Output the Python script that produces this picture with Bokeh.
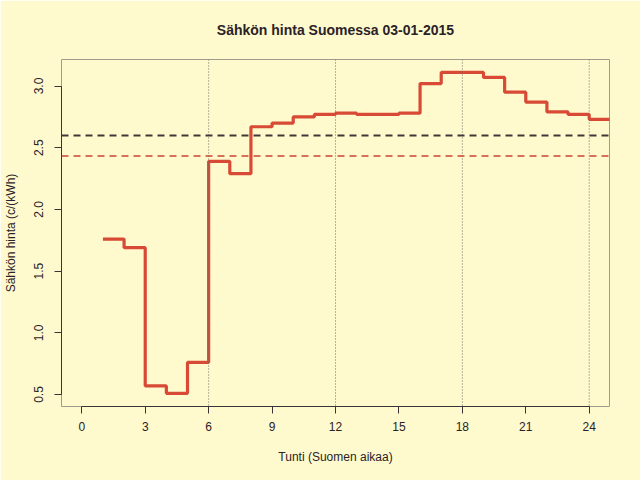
from bokeh.plotting import figure
from bokeh.models import Span, FixedTicker, NumeralTickFormatter, Range1d, LinearAxis
from bokeh.embed import file_html
from bokeh.resources import INLINE

# Data (hour of day, price c/kWh)
hours = [1, 2, 3, 4, 5, 6, 7, 8, 9, 10, 11, 12,
         13, 14, 15, 16, 17, 18, 19, 20, 21, 22, 23, 24]
prices = [1.76, 1.69, 0.57, 0.51, 0.76, 2.39, 2.29, 2.67, 2.70, 2.75, 2.77, 2.78,
          2.77, 2.77, 2.78, 3.02, 3.11, 3.11, 3.07, 2.95, 2.87, 2.79, 2.77, 2.73]
reference_price = 2.60
x_ticks = [0, 3, 6, 9, 12, 15, 18, 21, 24]
y_ticks = [0.5, 1.0, 1.5, 2.0, 2.5, 3.0]
day_lines = [6, 12, 18, 24]
title_text = "Sähkön hinta Suomessa 03-01-2015"
x_label = "Tunti (Suomen aikaa)"
y_label = "Sähkön hinta (c/(kWh)"

mean_price = sum(prices) / len(prices)

BG = "#FFFACD"
FONT = "Liberation Sans"

p = figure(width=640, height=480, output_backend="svg", toolbar_location=None,
           x_range=Range1d(-0.96, 24.96), y_range=Range1d(0.403, 3.215),
           min_border_left=59, min_border_right=31, min_border_top=59,
           min_border_bottom=74)
p.background_fill_color = BG
p.border_fill_color = BG
p.outline_line_color = "#a09c8c"
p.outline_line_width = 1
p.grid.visible = False

xaxis = p.below[0]
yaxis = p.left[0]

for ax in (xaxis, yaxis):
    ax.axis_line_color = "#3a3438"
    ax.axis_line_width = 1
    ax.major_tick_line_color = "#3a3438"
    ax.major_tick_out = 7
    ax.major_tick_in = 0
    ax.minor_tick_line_color = None
    ax.major_label_text_font = FONT
    ax.major_label_text_font_size = "12px"
    ax.major_label_text_color = "#2a2228"
    ax.axis_label_text_font = FONT
    ax.axis_label_text_font_size = "12px"
    ax.axis_label_text_font_style = "normal"
    ax.axis_label_text_color = "#2a2228"

xaxis.ticker = FixedTicker(ticks=x_ticks)
xaxis.bounds = (x_ticks[0], x_ticks[-1])
xaxis.axis_label = x_label
xaxis.major_label_standoff = 8
xaxis.axis_label_standoff = 16

yaxis.ticker = FixedTicker(ticks=y_ticks)
yaxis.bounds = (y_ticks[0], y_ticks[-1])
yaxis.formatter = NumeralTickFormatter(format="0.0")
yaxis.major_label_orientation = "vertical"
yaxis.axis_label = y_label
yaxis.major_label_standoff = 11
yaxis.axis_label_standoff = 14

# Title drawn as the label of an empty axis above the frame
title_axis = LinearAxis(ticker=FixedTicker(ticks=[]), axis_label=title_text,
                        axis_line_color=None, major_tick_line_color=None,
                        minor_tick_line_color=None, major_tick_out=0,
                        major_label_standoff=0, axis_label_standoff=22,
                        axis_label_text_font=FONT, axis_label_text_font_size="14px",
                        axis_label_text_font_style="bold",
                        axis_label_text_color="#2a2228")
p.add_layout(title_axis, "above")

for h in day_lines:
    p.add_layout(Span(location=h, dimension="height", line_color="#6e6a66",
                      line_width=1, line_dash="1 2"))

p.add_layout(Span(location=reference_price, dimension="width", line_color="#403838",
                  line_width=2, line_dash="7 5"))
p.add_layout(Span(location=mean_price, dimension="width", line_color="#cc4433",
                  line_width=1.5, line_dash="7 5"))

xs = hours + [hours[-1] + 1]
ys = prices + [prices[-1]]
p.step(xs, ys, mode="after", line_color="#d84a35", line_width=3.2)

with open("out.html", "w") as f:
    f.write(file_html(p, INLINE))
